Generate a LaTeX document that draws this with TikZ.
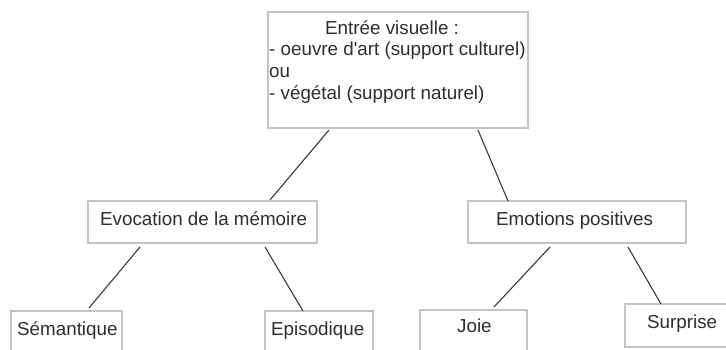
\documentclass[tikz,border=0pt]{standalone}
\usepackage{fontspec}
\setmainfont{Liberation Sans}
\usetikzlibrary{calc}
\definecolor{boxgray}{HTML}{C4C4C4}
\definecolor{linegray}{HTML}{3A3A3A}
\definecolor{txt}{HTML}{2E2E2E}
\begin{document}
\begin{tikzpicture}[x=1pt,y=-1pt,
  box/.style={draw=boxgray,line width=1.1pt,fill=white,inner sep=0pt,outer sep=0pt},
  lbl/.style={anchor=base west,inner sep=0pt,text=txt,font=\fontsize{18.8}{21.7}\selectfont},
  conn/.style={draw=linegray,line width=1.1pt}]
\useasboundingbox (0,0) rectangle (726,349);
\clip (0,0) rectangle (726,349);
\fill[white] (0,0) rectangle (726,349);
% boxes
\node[box,minimum width=260pt,minimum height=116pt] (top) at (398,70) {};
\node[box,minimum width=229pt,minimum height=42pt] (evo) at (202.5,222) {};
\node[box,minimum width=218pt,minimum height=42pt] (emo) at (577,222) {};
\node[box,minimum width=111pt,minimum height=44pt] (sem) at (66.5,333) {};
\node[box,minimum width=108pt,minimum height=44pt] (epi) at (319,333) {};
\node[box,minimum width=107pt,minimum height=44pt] (joie) at (473.5,332) {};
\node[box,minimum width=106pt,minimum height=43pt] (sur) at (678,325.5) {};
% texts
\node[lbl] (t1) at (325,34) {Entrée visuelle :};
\node[lbl] (t2) at (269,55.5) {- oeuvre d\textquotesingle art (support culturel)};
\node[lbl] (t3) at (269,77.5) {ou};
\node[lbl] (t4) at (269,99) {- végétal (support naturel)};
\node[lbl] (tevo) at (100,225) {Evocation de la mémoire};
\node[lbl] (temo) at (496,225) {Emotions positives};
\node[lbl] (tsem) at (17,335) {Sémantique};
\node[lbl] (tepi) at (271,335) {Episodique};
\node[lbl] (tjoie) at (457,332) {Joie};
\node[lbl] (tsur) at (647,328) {Surprise};
% connector ends
\coordinate (a1) at ($(top.south west)+(61,2)$);
\coordinate (b1) at ($(evo.north west)+(182,-1)$);
\coordinate (a2) at ($(top.south west)+(210,2)$);
\coordinate (b2) at ($(emo.north west)+(40,0)$);
\coordinate (a3) at ($(evo.south west)+(52,4)$);
\coordinate (b3) at ($(sem.north west)+(78,-3)$);
\coordinate (a4) at ($(evo.south west)+(177,4)$);
\coordinate (b4) at ($(epi.north west)+(38,0)$);
\coordinate (a5) at ($(emo.south west)+(82,4)$);
\coordinate (b5) at ($(joie.north west)+(74,-3)$);
\coordinate (a6) at ($(emo.south west)+(160,4)$);
\coordinate (b6) at ($(sur.north west)+(36,0)$);
\draw[conn] (a1) -- (b1);
\draw[conn] (a2) -- (b2);
\draw[conn] (a3) -- (b3);
\draw[conn] (a4) -- (b4);
\draw[conn] (a5) -- (b5);
\draw[conn] (a6) -- (b6);
\end{tikzpicture}
\end{document}
